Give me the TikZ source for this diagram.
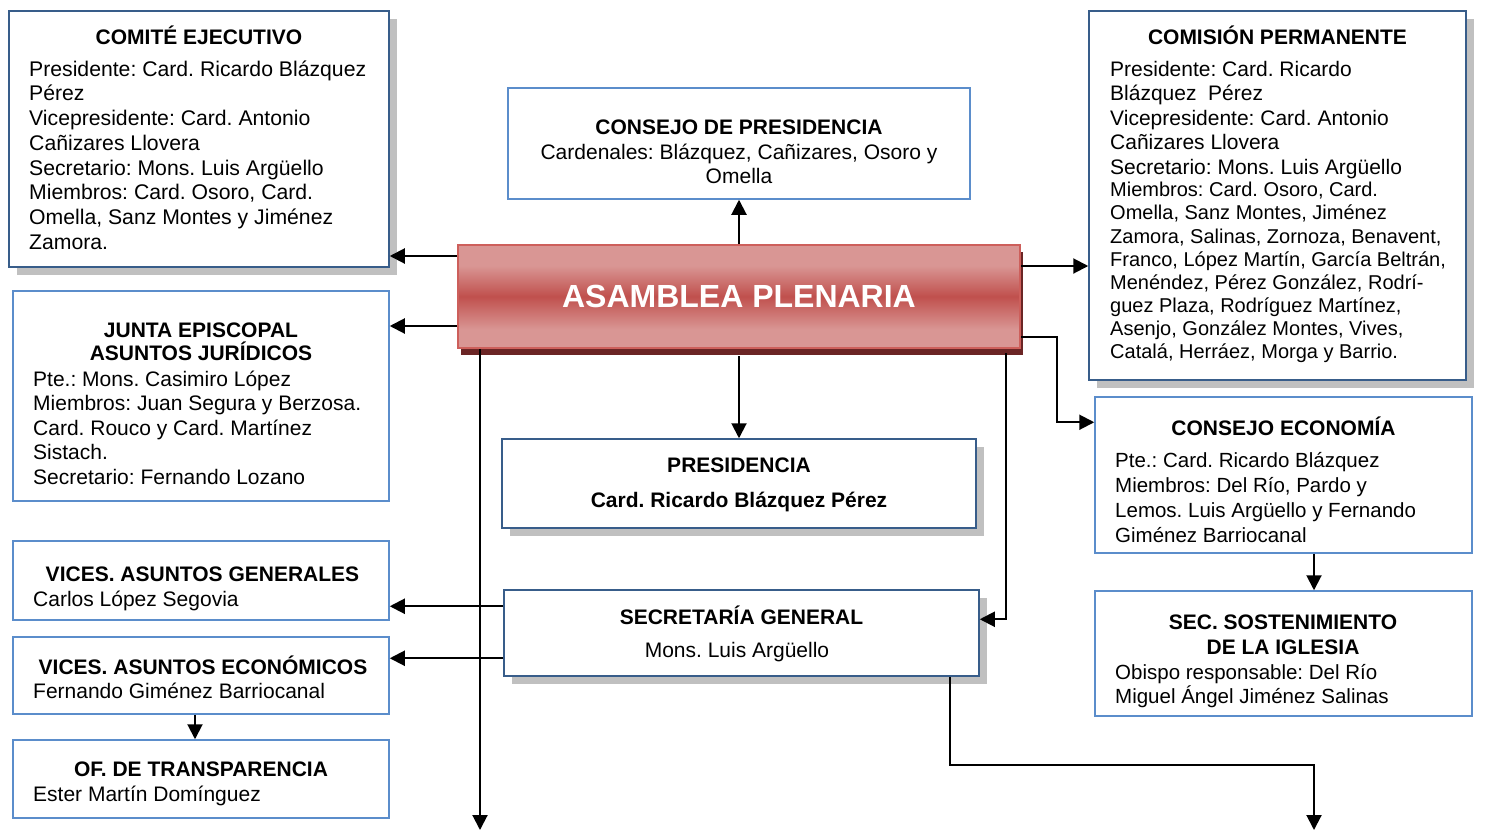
\documentclass[tikz,border=0pt]{standalone}
\usepackage{fontspec}
\setmainfont{Liberation Sans}
\usetikzlibrary{arrows.meta,shadows}
\definecolor{darkb}{HTML}{385D8A}
\definecolor{lightb}{HTML}{5B8DCB}
\definecolor{shgray}{HTML}{C0C0C0}
\definecolor{apl}{HTML}{D99694}
\definecolor{apd}{HTML}{C0504D}
\definecolor{apborder}{HTML}{CD5F5B}
\definecolor{apshadow}{HTML}{6B2525}
\pgfdeclareverticalshading{apshade}{100bp}{color(0bp)=(apl); color(34bp)=(apl); color(50bp)=(apd); color(65bp)=(apl); color(100bp)=(apl)}
\newcommand\bodyf{\fontsize{21}{24.7}\selectfont}
\newcommand\titf{\bfseries\fontsize{21}{24.7}\selectfont}
\begin{document}
\frenchspacing
\begin{tikzpicture}[x=1pt,y=-1pt,
  darkbox/.style={draw=darkb, line width=1.5pt, fill=white, inner sep=0,
    drop shadow={shadow xshift=8pt, shadow yshift=-8pt, fill=shgray, opacity=1}},
  lightbox/.style={draw=lightb, line width=1.5pt, fill=white, inner sep=0},
  ttl/.style={anchor=base, inner sep=0, font=\titf},
  bdy/.style={anchor=base west, inner sep=0, font=\bodyf},
  ctr/.style={anchor=base, inner sep=0, font=\bodyf},
  arr/.style={line width=2pt, -{Triangle[length=15pt,width=15pt]}}
]
\useasboundingbox (0,0) rectangle (1497,830);

% ---------- boxes ----------
\node[darkbox, minimum width=380, minimum height=256] (ce) at (199,139) {};
\node[lightbox, minimum width=462, minimum height=111] (cp) at (739,143.5) {};
\node[darkbox, minimum width=377, minimum height=369] (cpm) at (1277.5,195.5) {};
\node[draw=apborder, line width=2pt, shading=apshade, minimum width=562, minimum height=103,
  inner sep=0, text=white, font=\bfseries\fontsize{32}{38}\selectfont,
  drop shadow={shadow xshift=3pt, shadow yshift=-7pt, fill=apshadow, opacity=1}]
  (ap) at (739,296.5) {ASAMBLEA PLENARIA};
\node[lightbox, minimum width=376, minimum height=210] (je) at (201,396) {};
\node[darkbox, minimum width=474, minimum height=89] (pr) at (739,483.5) {};
\node[lightbox, minimum width=377, minimum height=156] (cec) at (1283.5,475) {};
\node[lightbox, minimum width=376, minimum height=79] (vg) at (201,580.5) {};
\node[darkbox, minimum width=475, minimum height=86] (sg) at (741.5,633) {};
\node[lightbox, minimum width=376, minimum height=77] (ve) at (201,675.5) {};
\node[lightbox, minimum width=377, minimum height=125] (ss) at (1283.5,653.5) {};
\node[lightbox, minimum width=376, minimum height=78] (ot) at (201,779) {};

% ---------- texts ----------
\node[ttl] (ceT) at (199,44.3) {COMITÉ EJECUTIVO};
\node[bdy, font=\fontsize{21.2}{24.75}\selectfont] (ceB) at (29,76) {\parbox[t]{355pt}{\raggedright Presidente: Card. Ricardo Blázquez\\ Pérez\\ Vicepresidente: Card. Antonio\\ Cañizares Llovera\\ Secretario: Mons. Luis Argüello\\ Miembros: Card. Osoro, Card.\\ Omella, Sanz Montes y Jiménez\\ Zamora.}};

\node[ttl] (cpT) at (739,134) {CONSEJO DE PRESIDENCIA};
\node[ctr] (cpB) at (739,159.5) {\parbox[t]{440pt}{\centering Cardenales: Blázquez, Cañizares, Osoro y\\[-1.2pt] Omella}};

\node[ttl] (cpmT) at (1277.5,44) {COMISIÓN PERMANENTE};
\node[bdy, font=\fontsize{21}{24.6}\selectfont] (cpmB) at (1110,76) {\parbox[t]{350pt}{\raggedright Presidente: Card. Ricardo\\ Blázquez\ \ Pérez\\ Vicepresidente: Card. Antonio\\ Cañizares Llovera\\ Secretario: Mons. Luis Argüello\par
{\fontsize{20}{23.1}\selectfont\vspace{-0.7pt}Miembros: Card. Osoro, Card.\\ Omella, Sanz Montes, Jiménez\\ Zamora, Salinas, Zornoza, Benavent,\\ Franco, López Martín, García Beltrán,\\ Menéndez, Pérez González, Rodrí-\\ guez Plaza, Rodríguez Martínez,\\ Asenjo, González Montes, Vives,\\ Catalá, Herráez, Morga y Barrio.\par}}};

\node[ttl] (jeT) at (201,337.3) {\parbox[t]{360pt}{\centering JUNTA EPISCOPAL\\[-1.3pt] ASUNTOS JURÍDICOS}};
\node[bdy, font=\fontsize{21}{24.5}\selectfont] (jeB) at (33,386) {\parbox[t]{350pt}{\raggedright Pte.: Mons. Casimiro López\\ Miembros: Juan Segura y Berzosa.\\ Card. Rouco y Card. Martínez\\ Sistach.\\ Secretario: Fernando Lozano}};

\node[ttl] (prT) at (739,472.3) {PRESIDENCIA};
\node[ttl] (prB) at (739,507.3) {Card. Ricardo Blázquez Pérez};

\node[ttl] (cecT) at (1283.5,435) {CONSEJO ECONOMÍA};
\node[bdy, font=\fontsize{20.5}{25}\selectfont] (cecB) at (1115,467.3) {\parbox[t]{350pt}{\raggedright Pte.: Card. Ricardo Blázquez\\ Miembros: Del Río, Pardo y\\ Lemos. Luis Argüello y Fernando\\ Giménez Barriocanal}};

\node[ttl] (vgT) at (202.5,581.7) {VICES. ASUNTOS GENERALES};
\node[bdy] (vgB) at (33,606.7) {Carlos López Segovia};

\node[ttl] (sgT) at (741.5,624) {SECRETARÍA GENERAL};
\node[ctr] (sgB) at (737,657.3) {Mons. Luis Argüello};

\node[ttl] (veT) at (203,674) {VICES. ASUNTOS ECONÓMICOS};
\node[bdy] (veB) at (33,698.3) {Fernando Giménez Barriocanal};

\node[ttl] (ssT) at (1283,629) {\parbox[t]{360pt}{\centering SEC. SOSTENIMIENTO\\[0.3pt] DE LA IGLESIA}};
\node[bdy, font=\fontsize{20.5}{24.3}\selectfont] (ssB) at (1115,679) {\parbox[t]{350pt}{\raggedright Obispo responsable: Del Río\\ Miguel Ángel Jiménez Salinas}};

\node[ttl] (otT) at (201,776.7) {OF. DE TRANSPARENCIA};
\node[bdy] (otB) at (33,801) {Ester Martín Domínguez};

% ---------- connectors ----------
\coordinate (bot) at (0,830);
\coordinate (a1) at ([yshift=-12pt]ap.north west);
\draw[arr] (a1) -- (a1 -| ce.east);
\coordinate (a2) at ([yshift=-82pt]ap.north west);
\draw[arr] (a2) -- (a2 -| je.east);
\draw[arr] (ap.north) -- (cp.south);
\coordinate (a3) at ([yshift=-22pt]ap.north east);
\draw[arr] (a3) -- (a3 -| cpm.west);
\coordinate (a4) at ([yshift=-93pt]ap.north east);
\coordinate (c4) at ([yshift=-26pt]cec.north west);
\draw[arr] (a4) -- ++(36,0) |- (c4);
\draw[arr] ([yshift=-7pt]ap.south) -- (pr.north);
\coordinate (a5) at ([xshift=-15pt,yshift=-4pt]ap.south east);
\coordinate (s5) at ([yshift=-30pt]sg.north east);
\draw[arr] (a5) |- (s5);
\coordinate (a6) at ([xshift=23pt]ap.south west);
\draw[arr] (a6) -- (a6 |- bot);
\coordinate (g1) at ([yshift=-17pt]sg.north west);
\draw[arr] (g1) -- (g1 -| vg.east);
\coordinate (g2) at ([yshift=-69pt]sg.north west);
\draw[arr] (g2) -- (g2 -| ve.east);
\draw[arr] ([xshift=-6pt]ve.south) -- ([xshift=-6pt]ot.north);
\draw[arr] ([xshift=30.5pt]cec.south) -- ([xshift=30.5pt]ss.north);
\coordinate (g3) at ([xshift=-30pt]sg.south east);
\coordinate (t1) at ([xshift=30.5pt,yshift=-48pt]ss.south);
\draw[arr] (g3) |- (t1) -- (t1 |- bot);
\end{tikzpicture}
\end{document}
